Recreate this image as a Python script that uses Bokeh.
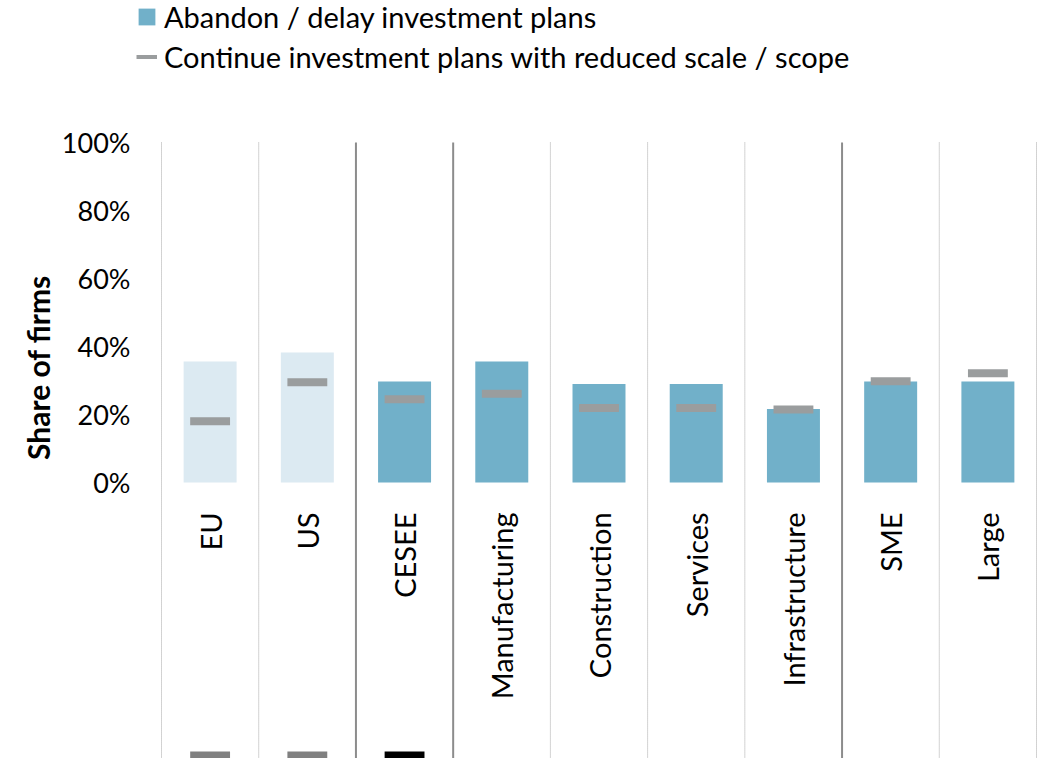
import math
from bokeh.plotting import figure
from bokeh.models import Range1d, Legend, LegendItem
from bokeh.core.properties import value
from bokeh.embed import file_html
from bokeh.resources import INLINE

# ---- data ----
categories = ["EU", "US", "CESEE", "Manufacturing", "Construction", "Services",
              "Infrastructure", "SME", "Large"]
abandon = [35.6, 38.2, 29.7, 35.6, 29.0, 29.0, 21.6, 29.7, 29.7]
reduced = [18.0, 29.5, 24.5, 26.1, 21.9, 21.9, 21.5, 29.8, 32.1]
highlight = [False, False, True, True, True, True, True, True, True]
bottom_cats = ["EU", "US", "CESEE"]
bottom_vals = [-80.3, -80.3, -80.3]
bottom_colors = ["#808080", "#808080", "#000000"]
y_ticks = [0, 20, 40, 60, 80, 100]
y_tick_labels = ["0%", "20%", "40%", "60%", "80%", "100%"]
solid_separators = [2, 3, 7]
dotted_separators = [0, 1, 4, 5, 6, 8, 9]

FONT = "Lato"
DARK = "#71b0c9"
LIGHT = "#dceaf2"
GREY = "#9a9d9e"

# category slot positions (slot i spans [i, i+1])
pos = {c: i + 0.5 for i, c in enumerate(categories)}
xs = [pos[c] for c in categories]

W, H = 1043, 758
p = figure(width=W, height=H, output_backend="svg", toolbar_location=None,
           x_range=Range1d(-1.656, len(categories) + 0.072),
           y_range=Range1d(-81.18, 141.76),
           min_border_left=0, min_border_right=0, min_border_top=0,
           min_border_bottom=0)
p.outline_line_color = None
p.xaxis.visible = False
p.yaxis.visible = False
p.xgrid.visible = False
p.ygrid.visible = False
p.background_fill_color = "white"
p.border_fill_color = "white"

y_top = y_ticks[-1]
y_bot = -90
p.segment(x0=solid_separators, x1=solid_separators, y0=[y_top] * len(solid_separators),
          y1=[y_bot] * len(solid_separators), line_color="#8c8c8c", line_width=2)
p.segment(x0=dotted_separators, x1=dotted_separators, y0=[y_top] * len(dotted_separators),
          y1=[y_bot] * len(dotted_separators), line_color="#a6a6a6", line_width=1,
          line_dash="1 1")

light_x = [x for x, h in zip(xs, highlight) if not h]
light_vals = [v for v, h in zip(abandon, highlight) if not h]
dark_x = [x for x, h in zip(xs, highlight) if h]
dark_vals = [v for v, h in zip(abandon, highlight) if h]

p.vbar(x=light_x, top=light_vals, bottom=0, width=0.545, fill_color=LIGHT, line_color=None)
dark = p.vbar(x=dark_x, top=dark_vals, bottom=0, width=0.545, fill_color=DARK, line_color=None)

p.rect(x=xs, y=reduced, width=0.41, height=8, height_units="screen",
       fill_color=GREY, line_color=None)
p.rect(x=[pos[c] for c in bottom_cats], y=bottom_vals, width=0.41, height=8,
       height_units="screen", fill_color=bottom_colors, line_color=None)

# category labels
p.text(x=xs, y=[-8.8] * len(categories), text=categories, angle=math.pi / 2,
       text_align="right", text_baseline="middle", text_font=value(FONT),
       text_font_size="29px", text_color="black")

# y tick labels
p.text(x=[-0.319] * len(y_ticks), y=y_ticks, text=y_tick_labels,
       text_align="right", text_baseline="middle", text_font=value(FONT),
       text_font_size="27px", text_color="black")

# y axis title
p.text(x=[-1.275], y=[33.8], text=["Share of firms"], angle=math.pi / 2,
       text_align="center", text_baseline="middle", text_font=value(FONT),
       text_font_size="30px", text_font_style="bold", text_color="black")

# legend proxy for the reduced-scale markers (hidden, shown only in legend)
proxy = p.line(x=xs, y=reduced, line_color=GREY, line_width=4, visible=False)

legend = Legend(items=[LegendItem(label="Abandon / delay investment plans", renderers=[dark]),
                       LegendItem(label="Continue investment plans with reduced scale / scope",
                                  renderers=[proxy])],
                location=(136, H - 74), orientation="vertical",
                label_text_font=FONT, label_text_font_size="29px", label_text_color="black",
                glyph_width=21, glyph_height=21, label_height=35, spacing=5,
                label_standoff=7, padding=0, margin=0,
                inactive_fill_alpha=0, click_policy="none",
                background_fill_alpha=0, border_line_color=None)
p.add_layout(legend, "center")

open("out.html", "w").write(file_html(p, INLINE))
